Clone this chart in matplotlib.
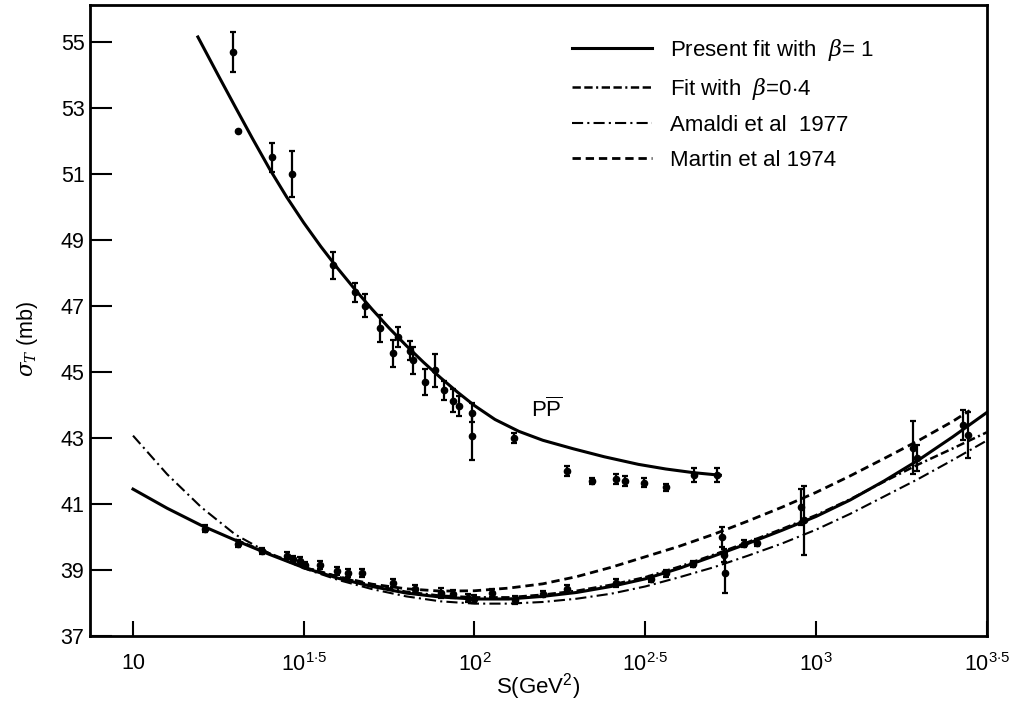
import numpy as np
import matplotlib
matplotlib.use("Agg")
import matplotlib.pyplot as plt

plt.rcParams["font.family"] = ["Liberation Sans", "DejaVu Sans"]
plt.rcParams["mathtext.fontset"] = "custom"
plt.rcParams["mathtext.rm"] = "Liberation Sans"
plt.rcParams["mathtext.it"] = "DejaVu Serif:italic"
plt.rcParams["lines.scale_dashes"] = False

# ---- fitted curves, log10(S) vs sigma_T (mb) ----
ppbar_fit_logs = [1.19, 1.25, 1.30, 1.35, 1.40, 1.45, 1.50, 1.55, 1.60, 1.65, 1.70, 1.75,
                  1.80, 1.85, 1.90, 1.95, 2.00, 2.06, 2.13, 2.20, 2.29, 2.38, 2.48, 2.56,
                  2.64, 2.72]
ppbar_fit_sig = [55.15, 53.98, 53.02, 52.07, 51.15, 50.3, 49.52, 48.8, 48.13, 47.5, 46.9, 46.33,
                 45.8, 45.3, 44.83, 44.39, 43.98, 43.56, 43.2, 42.93, 42.67, 42.43, 42.2, 42.06,
                 41.95, 41.87]

pp_fit_logs = [1.0, 1.1, 1.2, 1.3, 1.4, 1.5, 1.6, 1.7, 1.8, 1.9, 2.0, 2.1, 2.2, 2.3, 2.4,
               2.5, 2.6, 2.7, 2.8, 2.9, 3.0, 3.1, 3.2, 3.3, 3.4, 3.5]
pp_fit_sig = [41.45, 40.87, 40.35, 39.9, 39.47, 39.07, 38.75, 38.5, 38.3, 38.18, 38.12, 38.12,
              38.2, 38.32, 38.5, 38.73, 39.05, 39.42, 39.8, 40.2, 40.62, 41.12, 41.7, 42.33,
              43.03, 43.77]

beta04_logs = [1.3, 1.4, 1.5, 1.6, 1.7, 1.8, 1.9, 2.0, 2.1, 2.2, 2.3, 2.4, 2.5, 2.6, 2.7,
               2.8, 2.9, 3.0, 3.1, 3.2, 3.3, 3.4, 3.5]
beta04_sig = [39.92, 39.5, 39.1, 38.79, 38.54, 38.34, 38.22, 38.17, 38.17, 38.25, 38.37, 38.55,
              38.78, 39.1, 39.46, 39.84, 40.24, 40.66, 41.14, 41.68, 42.2, 42.68, 43.17]

amaldi_logs = [1.0, 1.1, 1.2, 1.3, 1.4, 1.5, 1.6, 1.7, 1.8, 1.9, 2.0, 2.1, 2.2, 2.3, 2.4,
               2.5, 2.6, 2.7, 2.8, 2.9, 3.0, 3.1, 3.2, 3.3, 3.4, 3.5]
amaldi_sig = [43.07, 41.9, 40.9, 40.07, 39.5, 39.05, 38.7, 38.42, 38.2, 38.05, 37.98, 37.98,
              38.03, 38.13, 38.28, 38.5, 38.78, 39.08, 39.43, 39.8, 40.22, 40.7, 41.23, 41.76,
              42.33, 42.92]

martin_logs = [1.5, 1.6, 1.7, 1.8, 1.9, 2.0, 2.1, 2.2, 2.3, 2.4, 2.5, 2.6, 2.7, 2.8, 2.9,
               3.0, 3.1, 3.2, 3.3, 3.4, 3.45]
martin_sig = [39.08, 38.8, 38.57, 38.43, 38.36, 38.37, 38.45, 38.58, 38.8, 39.08, 39.4, 39.72,
              40.08, 40.48, 40.9, 41.35, 41.85, 42.38, 42.92, 43.5, 43.83]

# ---- data points: log10(S), sigma_T, error ----
ppbar_logs = [1.292, 1.307, 1.406, 1.465, 1.585, 1.649, 1.678, 1.722, 1.76, 1.775, 1.81,
              1.82, 1.854, 1.883, 1.91, 1.936, 1.956, 1.994, 1.994, 2.117, 2.272, 2.345,
              2.415, 2.44, 2.497, 2.56, 2.643, 2.71]
ppbar_sig = [54.7, 52.3, 51.5, 51.0, 48.23, 47.41, 47.0, 46.32, 45.56, 46.05, 45.65,
             45.35, 44.7, 45.05, 44.44, 44.13, 43.98, 43.77, 43.05, 43.0, 42.0, 41.7,
             41.75, 41.7, 41.65, 41.5, 41.88, 41.88]
ppbar_err = [0.6, 0.0, 0.45, 0.7, 0.4, 0.3, 0.35, 0.4, 0.4, 0.3, 0.3,
             0.4, 0.4, 0.5, 0.3, 0.35, 0.3, 0.3, 0.72, 0.15, 0.15, 0.1,
             0.15, 0.15, 0.15, 0.1, 0.2, 0.2]

pp_logs = [1.21, 1.307, 1.377, 1.45, 1.468, 1.488, 1.503, 1.547, 1.596, 1.629, 1.672, 1.76,
           1.825, 1.903, 1.936, 1.98, 2.0, 2.05, 2.12, 2.2, 2.27, 2.415, 2.517, 2.56, 2.64,
           2.725, 2.73, 2.735, 2.79, 2.827, 2.957, 2.965, 3.285, 3.295, 3.43, 3.445]
pp_sig = [40.25, 39.8, 39.58, 39.43, 39.33, 39.27, 39.15, 39.15, 38.97, 38.9, 38.9, 38.6,
          38.43, 38.3, 38.27, 38.15, 38.12, 38.3, 38.1, 38.27, 38.43, 38.6, 38.73, 38.9, 39.18,
          40.0, 39.45, 38.9, 39.8, 39.83, 40.9, 40.5, 42.7, 42.4, 43.4, 43.1]
pp_err = [0.1, 0.1, 0.1, 0.1, 0.1, 0.12, 0.1, 0.12, 0.12, 0.12, 0.12, 0.12,
          0.12, 0.15, 0.12, 0.12, 0.12, 0.12, 0.12, 0.1, 0.1, 0.12, 0.1, 0.1, 0.1,
          0.3, 0.2, 0.6, 0.1, 0.1, 0.55, 1.05, 0.8, 0.4, 0.45, 0.7]

fig = plt.figure(figsize=(10.11, 7.09), dpi=100)
ax = fig.add_axes([0.089, 0.103, 0.887, 0.890])

S = lambda v: np.power(10.0, np.asarray(v))

ax.plot(S(ppbar_fit_logs), ppbar_fit_sig, color="black", lw=2.2)
l1, = ax.plot(S(pp_fit_logs), pp_fit_sig, color="black", lw=2.2,
              label=r"Present fit with  $\beta$= 1")
l2, = ax.plot(S(beta04_logs), beta04_sig, color="black", lw=1.8,
              dashes=(6, 2.5, 6, 2.5, 1.5, 2.5), label=r"Fit with  $\beta$=0${\cdot}$4")
l3, = ax.plot(S(amaldi_logs), amaldi_sig, color="black", lw=1.5,
              dashes=(8, 3, 1.5, 3), label="Amaldi et al  1977")
l4, = ax.plot(S(martin_logs), martin_sig, color="black", lw=2.0,
              dashes=(6, 3.5), label="Martin et al 1974")

ax.errorbar(S(ppbar_logs), ppbar_sig, yerr=ppbar_err, fmt="o", color="black",
            ms=4.5, elinewidth=1.6, capsize=2.5, capthick=1.6)
ax.errorbar(S(pp_logs), pp_sig, yerr=pp_err, fmt="o", color="black",
            ms=4.5, elinewidth=1.6, capsize=2.5, capthick=1.6)

ax.text(S(2.213), 43.85, r"P$\overline{\mathrm{P}}$", fontsize=16, ha="center", va="center")

ax.set_xscale("log")
ax.set_xlim(S(0.874), S(3.5))
ax.set_ylim(37, 56.12)

xt = [1.0, 1.5, 2.0, 2.5, 3.0, 3.5]
xt_labels = ["10", r"$10^{1{\cdot}5}$", r"$10^{2}$", r"$10^{2{\cdot}5}$", r"$10^{3}$",
             r"$10^{3{\cdot}5}$"]
ax.set_xticks(S(xt))
ax.set_xticklabels(xt_labels)
ax.xaxis.set_minor_locator(matplotlib.ticker.NullLocator())
ax.set_yticks(np.arange(37, 56, 2))

ax.tick_params(axis="x", direction="in", length=11, width=1.5, labelsize=15.5, pad=12)
ax.tick_params(axis="y", direction="in", length=16, width=1.5, labelsize=15.5, pad=4)
for sp in ax.spines.values():
    sp.set_linewidth(2.0)

ax.set_xlabel(r"S(GeV$^2$)", fontsize=16, labelpad=-3)
ax.set_ylabel(r"$\sigma_T$ (mb)", fontsize=15.5)
ax.yaxis.set_label_coords(-0.056, 0.47)

ax.legend(handles=[l1, l2, l3, l4], loc="upper left", bbox_to_anchor=(0.538, 0.95),
          frameon=False, fontsize=16, handlelength=3.6, handletextpad=0.8,
          labelspacing=0.6, borderpad=0, borderaxespad=0)

fig.savefig("out.png", dpi=100)
